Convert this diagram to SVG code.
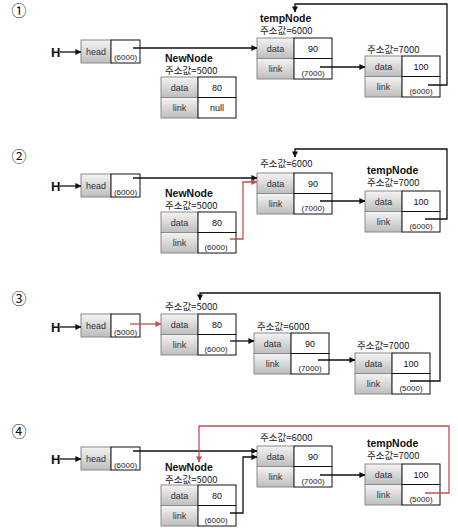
<svg xmlns="http://www.w3.org/2000/svg" xmlns:xlink="http://www.w3.org/1999/xlink" width="458" height="532" viewBox="0 0 458 532">
  <style>
    text { font-family: "Liberation Sans", "Noto Sans CJK KR", sans-serif; fill: #111; }
    .kr { font-family: "Noto Sans CJK KR", "Liberation Sans", sans-serif; font-size: 9.5px; fill: #222; }
    .title { font-weight: bold; font-size: 10.5px; }
    .cell { font-size: 9px; text-anchor: middle; fill: #333; }
    .val { font-size: 9px; text-anchor: middle; }
    .ptr { font-size: 8px; text-anchor: middle; fill: #222; }
    .step { font-family: "Noto Sans CJK KR", "DejaVu Sans", sans-serif; font-size: 15px; text-anchor: middle; }
    .hmark { font-weight: bold; font-size: 13px; }
    .gray { fill: url(#cellShade); stroke: #8a8a8a; stroke-width: 1; }
    .white { fill: #fff; stroke: #111; stroke-width: 1; }
    .conn { fill: none; stroke: #111; stroke-width: 1.3; marker-end: url(#arrow); }
    .conn.red { stroke: #c0504d; marker-end: url(#arrowRed); }
  </style>
  <defs>
    <linearGradient id="cellShade" x1="0" y1="0" x2="0" y2="1">
      <stop offset="0" stop-color="#f4f4f4"/>
      <stop offset="1" stop-color="#bdbdbd"/>
    </linearGradient>
    <marker id="arrow" viewBox="0 0 8 8" refX="7.5" refY="4" markerWidth="6" markerHeight="6" markerUnits="userSpaceOnUse" orient="auto">
      <path d="M0,0 L8,4 L0,8 z" fill="#111"/>
    </marker>
    <marker id="arrowRed" viewBox="0 0 8 8" refX="7.5" refY="4" markerWidth="6" markerHeight="6" markerUnits="userSpaceOnUse" orient="auto">
      <path d="M0,0 L8,4 L0,8 z" fill="#c0504d"/>
    </marker>
    <!-- list node: data / link rows -->
    <g id="nodeBox">
      <rect class="gray" x="0" y="0" width="37" height="20.5"/>
      <rect class="gray" x="0" y="20.5" width="37" height="20.5"/>
      <rect class="white" x="37" y="0" width="38" height="20.5"/>
      <rect class="white" x="37" y="20.5" width="38" height="20.5"/>
      <text class="cell" x="18.5" y="13.5">data</text>
      <text class="cell" x="18.5" y="34">link</text>
    </g>
    <!-- head pointer box -->
    <g id="headBox">
      <rect class="gray" x="0" y="0" width="30" height="23"/>
      <rect class="white" x="30" y="0" width="29" height="23"/>
      <text class="cell" x="15" y="14.5">head</text>
    </g>
  </defs>

  <!-- step numbers -->
  <g id="steps">
    <text class="step" x="19" y="16">①</text>
    <text class="step" x="19" y="162">②</text>
    <text class="step" x="19" y="304">③</text>
    <text class="step" x="19" y="437">④</text>
  </g>

  <!-- ===== step 1 ===== -->
  <g id="s1-head">
    <text class="hmark" x="51" y="57">H</text>
    <g transform="translate(81,40)"><use xlink:href="#headBox"/><text class="ptr" x="44.5" y="20">(6000)</text></g>
  </g>
  <g id="s1-new">
    <text class="title" x="165" y="62">NewNode</text>
    <text class="kr" x="165" y="74">주소값=5000</text>
    <g transform="translate(161,77)"><use xlink:href="#nodeBox"/><text class="val" x="56" y="13.5">80</text><text class="val" x="56" y="34">null</text></g>
  </g>
  <g id="s1-n6000">
    <text class="title" x="260" y="22">tempNode</text>
    <text class="kr" x="260" y="34">주소값=6000</text>
    <g transform="translate(257,38)"><use xlink:href="#nodeBox"/><text class="val" x="56" y="13.5">90</text><text class="ptr" x="56" y="38">(7000)</text></g>
  </g>
  <g id="s1-n7000">
    <text class="kr" x="367" y="53">주소값=7000</text>
    <g transform="translate(365,56)"><use xlink:href="#nodeBox"/><text class="val" x="56" y="13.5">100</text><text class="ptr" x="56" y="38">(6000)</text></g>
  </g>

  <!-- ===== step 2 ===== -->
  <g id="s2-head">
    <text class="hmark" x="51" y="191">H</text>
    <g transform="translate(81,174)"><use xlink:href="#headBox"/><text class="ptr" x="44.5" y="21">(6000)</text></g>
  </g>
  <g id="s2-new">
    <text class="title" x="165" y="197">NewNode</text>
    <text class="kr" x="165" y="209">주소값=5000</text>
    <g transform="translate(161,212)"><use xlink:href="#nodeBox"/><text class="val" x="56" y="13.5">80</text><text class="ptr" x="55" y="38">(6000)</text></g>
  </g>
  <g id="s2-n6000">
    <text class="kr" x="260" y="167">주소값=6000</text>
    <g transform="translate(257,173)"><use xlink:href="#nodeBox"/><text class="val" x="56" y="13.5">90</text><text class="ptr" x="56" y="38">(7000)</text></g>
  </g>
  <g id="s2-n7000">
    <text class="title" x="367" y="174">tempNode</text>
    <text class="kr" x="367" y="186">주소값=7000</text>
    <g transform="translate(365,191)"><use xlink:href="#nodeBox"/><text class="val" x="56" y="13.5">100</text><text class="ptr" x="56" y="38">(6000)</text></g>
  </g>

  <!-- ===== step 3 ===== -->
  <g id="s3-head">
    <text class="hmark" x="51" y="332">H</text>
    <g transform="translate(81,314)"><use xlink:href="#headBox"/><text class="ptr" x="44.5" y="21">(5000)</text></g>
  </g>
  <g id="s3-n5000">
    <text class="kr" x="165" y="310">주소값=5000</text>
    <g transform="translate(161,314)"><use xlink:href="#nodeBox"/><text class="val" x="56" y="13.5">80</text><text class="ptr" x="55" y="38">(6000)</text></g>
  </g>
  <g id="s3-n6000">
    <text class="kr" x="257" y="330">주소값=6000</text>
    <g transform="translate(254,333)"><use xlink:href="#nodeBox"/><text class="val" x="56" y="13.5">90</text><text class="ptr" x="56" y="38">(7000)</text></g>
  </g>
  <g id="s3-n7000">
    <text class="kr" x="357" y="349">주소값=7000</text>
    <g transform="translate(355,353)"><use xlink:href="#nodeBox"/><text class="val" x="56" y="13.5">100</text><text class="ptr" x="56" y="38">(5000)</text></g>
  </g>

  <!-- ===== step 4 ===== -->
  <g id="s4-head">
    <text class="hmark" x="51" y="464">H</text>
    <g transform="translate(81,447)"><use xlink:href="#headBox"/><text class="ptr" x="44.5" y="21">(6000)</text></g>
  </g>
  <g id="s4-new">
    <text class="title" x="165" y="471">NewNode</text>
    <text class="kr" x="165" y="483">주소값=5000</text>
    <g transform="translate(161,485)"><use xlink:href="#nodeBox"/><text class="val" x="56" y="13.5">80</text><text class="ptr" x="55" y="38">(6000)</text></g>
  </g>
  <g id="s4-n6000">
    <text class="kr" x="260" y="441">주소값=6000</text>
    <g transform="translate(257,446)"><use xlink:href="#nodeBox"/><text class="val" x="56" y="13.5">90</text><text class="ptr" x="56" y="38">(7000)</text></g>
  </g>
  <g id="s4-n7000">
    <text class="title" x="367" y="447">tempNode</text>
    <text class="kr" x="367" y="459">주소값=7000</text>
    <g transform="translate(365,464)"><use xlink:href="#nodeBox"/><text class="val" x="56" y="13.5">100</text><text class="ptr" x="56" y="38">(5000)</text></g>
  </g>

  <!-- connectors -->
  <g id="connectors">
    <!-- step 1 -->
    <path class="conn" d="M60,52 H81"/>
    <path class="conn" d="M133,48 H257"/>
    <path class="conn" d="M320,67 H365"/>
    <path class="conn" d="M428,85 H447 V4 H295 V12"/>
    <!-- step 2 -->
    <path class="conn" d="M60,186 H81"/>
    <path class="conn" d="M133,178 H257"/>
    <path class="conn red" d="M230,239 H243 V182 H257"/>
    <path class="conn" d="M320,201 H365"/>
    <path class="conn" d="M425,219 H447 V149 H295 V157"/>
    <!-- step 3 -->
    <path class="conn" d="M60,327 H81"/>
    <path class="conn red" d="M130,324 H161"/>
    <path class="conn" d="M230,341 H254"/>
    <path class="conn" d="M318,360 H355"/>
    <path class="conn" d="M410,381 H440 V293 H200 V300"/>
    <!-- step 4 -->
    <path class="conn" d="M60,459 H81"/>
    <path class="conn" d="M133,451 H257"/>
    <path class="conn" d="M230,513 H243 V457 H257"/>
    <path class="conn" d="M320,475 H365"/>
    <path class="conn red" d="M425,493 H449 V426 H199 V462"/>
  </g>
</svg>
